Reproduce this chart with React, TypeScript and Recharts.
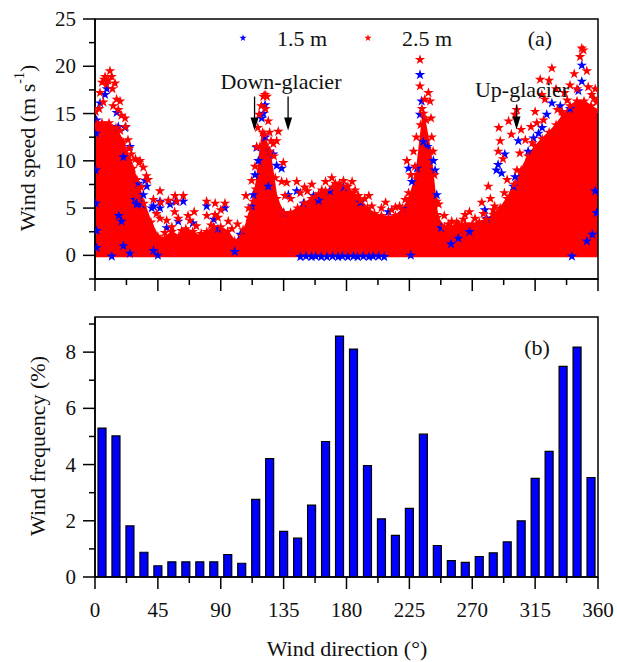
import React from "react";
import {
    ComposedChart,
    BarChart,
    Bar,
    Area,
    Scatter,
    XAxis,
    YAxis,
    ZAxis,
    ReferenceArea,
    ReferenceDot,
    Symbols,
} from "recharts";

const FONT = '"Liberation Serif", "Times New Roman", Times, serif';
const RED = "#ff0000";
const BLUE = "#0000ff";

// axis ticks (majors get labels, minors only a short tick)
const directionTicks = [0, 22.5, 45, 67.5, 90, 112.5, 135, 157.5, 180, 202.5, 225, 247.5, 270, 292.5, 315, 337.5, 360];
const speedTicks = [-2.5, 0, 2.5, 5, 7.5, 10, 12.5, 15, 17.5, 20, 22.5, 25];
const freqTicks = [0, 1, 2, 3, 4, 5, 6, 7, 8, 9];

// upper edge of the solid cloud of 2.5 m points, read every 5 degrees
const coreDir = [0, 5, 10, 15, 20, 25, 30, 35, 40, 45, 50, 55, 60, 65, 70, 75, 80, 85, 90, 95, 100, 105, 110, 115, 120, 125, 130, 135, 140, 145, 150, 155, 160, 165, 170, 175, 180, 185, 190, 195, 200, 205, 210, 215, 220, 225, 230, 235, 240, 245, 250, 255, 260, 265, 270, 275, 280, 285, 290, 295, 300, 305, 310, 315, 320, 325, 330, 335, 340, 345, 350, 355, 360];
const coreTop = [13.5, 14, 14, 13.5, 12, 10, 8, 5.5, 3.5, 2, 1.8, 2.5, 2, 2.8, 2.5, 2, 2.5, 3, 3, 2.5, 1.5, 2, 4, 7, 13, 11, 6, 4.5, 4.5, 5, 5.5, 6, 6.5, 6.8, 7.2, 7.4, 7.2, 6.6, 5.8, 5, 4.4, 4.2, 4, 4.2, 4.8, 6, 8.5, 15, 11, 4, 3, 3, 3.3, 3.3, 3.3, 3.5, 3.8, 4.3, 5, 6, 7.5, 9, 10.5, 11.5, 12.3, 13, 13.8, 14.8, 15.8, 16.3, 16.3, 15.8, 15.3];

// scattered points outside / on the edge of the cloud: [direction, speed]
const speed25m: [number, number][] = [
    [0.5, 15.2], [1.5, 13.9], [3.6, 17.2], [5, 18.3], [6.5, 18.6], [7.2, 18.9], [8.3, 18.1], [9.5, 18.5], [10.7, 19.5], [11.9, 18.9],
    [12.5, 17.6], [14.3, 18.2], [15.5, 16.5], [16.7, 15.4], [17.9, 16.3], [19, 14.8], [21.5, 14.5], [22, 13.6], [23.6, 12.2], [24.5, 11.3],
    [26, 10.7], [29, 10.2], [31.5, 9.8], [32.2, 10.0], [34.6, 9.3], [36.8, 8.4], [38, 8.0], [30, 6.2], [41.8, 5.9], [46.5, 6.8],
    [47, 5.6], [52.5, 5.8], [57.3, 6.3], [58.5, 5.7], [63.2, 6.3], [37, 3.7], [46.5, 3.9], [51.3, 3.7], [59.6, 3.9], [66.6, 4.2],
    [68, 3.7], [72.5, 3.1], [79.9, 5.7], [80, 4.2], [86, 5.5], [85.9, 4.3], [93, 5.5], [50, 2.4], [55, 3], [62, 2.6],
    [76, 2.3], [83, 3.2], [88, 4.0], [95.4, 3.6], [98, 2.8], [106, 2.7], [108, 6.3], [110, 5.0], [112.1, 7.9], [113.3, 5.7],
    [114.5, 9.4], [115.7, 11.5], [116.5, 13.5], [117.5, 14.9], [119, 15.8], [120.5, 16.8], [121.7, 17.0], [123, 16.8], [122, 15.5], [124, 14.2],
    [125, 13], [126, 12.1], [127.6, 11.8], [130, 12.1], [131.2, 13.1], [128, 10.5], [134.8, 9.8], [133.6, 7.8], [137.2, 7.7], [144.4, 7.8],
    [150, 7.2], [155.2, 7.5], [162.3, 6.9], [169.5, 8.2], [172, 7.6], [140, 6.0], [147, 6.6], [158, 6.2], [175, 7.6], [177.8, 7.9],
    [181, 7.3], [186.2, 6.9], [188.5, 6.3], [193, 6.0], [198.1, 5.2], [205, 5.0], [212.4, 4.8], [218, 5.2], [222, 5.9], [224.4, 6.6],
    [223.2, 10.0], [228, 11.0], [226, 8.5], [230, 12.5], [232.6, 20.7], [232.6, 17.9], [234, 15.5], [236, 16.5], [238.6, 17.2], [239.8, 16.3],
    [240.5, 14.5], [241, 12.5], [242, 11], [243, 8.5], [244.6, 5.7], [244.6, 4.3], [233, 13.8], [237, 14.3], [252.9, 3.3], [255.3, 3.6],
    [258.9, 3.5], [263.7, 3.8], [264.8, 4.3], [272, 3.9], [276.8, 5.6], [281.5, 7.3], [283, 6.0], [286, 5.2], [289, 13.5], [290, 12.1],
    [288.6, 11.0], [292, 10.2], [296, 14.2], [300.6, 14.9], [301.9, 15.4], [298, 12.8], [305, 13.3], [308, 12.2], [312, 13.6], [315, 15.2],
    [316.2, 14.0], [318.6, 18.6], [319.8, 17.0], [322, 16.5], [325, 18.5], [327, 19.8], [330, 17.6], [334, 15.2], [336, 17.2], [340, 18.0],
    [343, 19.2], [347.2, 21.0], [348.4, 21.9], [349.6, 21.7], [352, 19.5], [355.4, 17.0], [357, 16.6], [359, 16.2], [310, 9.5], [302, 9.0],
    [295, 8.0], [285, 4.8], [3, 15.5], [6, 16.2], [13, 15.8], [18, 13.2], [27, 9.2], [33, 7.2], [44, 4.4], [57, 4.6],
    [71, 4.6], [90, 4.8], [102, 3.3], [118, 11.5], [121, 12.8], [129, 8.2], [136, 6.3], [152, 6.8], [165, 7.8], [184, 7.8],
    [196, 6.3], [208, 5.6], [215, 5.1], [229, 9.4], [235, 11.2], [246, 5.4], [250, 4.2], [268, 4.6], [278, 4.4], [293, 6.6],
    [304, 10.8], [313, 11.9], [321, 14.3], [331, 15.4], [338, 16.4], [345, 17.6], [353, 17.8], [358, 17.6],
];

const speed15m: [number, number][] = [
    [0.5, 9], [0.5, 5.5], [0.7, 12.9], [1.2, 14.3], [3.6, 16.1], [7.2, 17.0], [8.5, 17.6], [15.5, 15.1], [16.7, 13.6], [21.5, 13.5],
    [20.3, 10.4], [25, 11.5], [31, 7.6], [37, 7.3], [36, 7.9], [28.6, 5.9], [33.4, 5.4], [34.6, 6.4], [29.8, 5.4], [40.6, 5.0],
    [41.8, 5.2], [46.5, 5.7], [46.5, 5.0], [53.7, 5.4], [57.7, 5.7], [63.2, 5.7], [59.6, 3.6], [70, 3.4], [79.9, 5.2], [85, 3.8],
    [88, 2.8], [93, 5.0], [1.2, 2.6], [19, 3.6], [17, 4.2], [51.3, 2.9], [20.3, 1.0], [41.8, 0.5], [1.2, 0.8], [12, -0.1],
    [25, 0.2], [45, 0], [100, 0.4], [104, 2.2], [112.1, 5.2], [113.3, 6.4], [114.5, 8.5], [115.7, 11.4], [116.9, 10.0], [119.3, 14.5],
    [120.5, 15.0], [121.7, 15.9], [122, 12.5], [124, 7.3], [125, 11.0], [127.6, 10.7], [130, 9.5], [133.6, 9.2], [135, 4.5], [138.4, 6.4],
    [144.4, 6.8], [149.2, 5.5], [156.4, 6.3], [160, 5.8], [168, 6.8], [178, 7.2], [190, 5.6], [210, 4.6], [220, 4.9], [147, -0.15],
    [151, -0.1], [155, -0.15], [158, -0.1], [162, -0.15], [166, -0.15], [170, -0.1], [174, -0.15], [177, -0.1], [181, -0.15], [185, -0.1],
    [188, -0.15], [192, -0.1], [196, -0.15], [199, -0.1], [203, -0.1], [207, -0.15], [226, 0], [224.4, 9.2], [226.8, 7.8],
    [230.4, 9.2], [232.6, 14.9], [232.6, 19.1], [233.8, 16.3], [235, 12], [238, 11.5], [242.2, 10.0], [243.4, 9.0], [244.6, 6.4], [247.7, 2.9],
    [254.8, 1.2], [260, 1.8], [268, 2.5], [279, 4.8], [280.3, 3.9], [287.3, 9.0], [288.5, 9.6], [291, 8.7], [293.3, 10.7], [299.4, 7.3],
    [300.6, 8.3], [303, 12.1], [310, 11], [313.8, 12.4], [317.4, 12.9], [320, 13.5], [323.3, 14.9], [327, 16.1], [333, 15.8], [340, 15.5],
    [341.3, -0.1], [346, 17.4], [348.4, 18.4], [348.4, 20.1], [352, 1.5], [356, 2.2], [358, 6.8], [359, 4.5],
];

// panel (b): frequency per 10 degree bin
const binCenters = [5, 15, 25, 35, 45, 55, 65, 75, 85, 95, 105, 115, 125, 135, 145, 155, 165, 175, 185, 195, 205, 215, 225, 235, 245, 255, 265, 275, 285, 295, 305, 315, 325, 335, 345, 355];
const windFreq = [5.3, 5.02, 1.82, 0.88, 0.4, 0.54, 0.54, 0.54, 0.54, 0.8, 0.49, 2.76, 4.21, 1.62, 1.38, 2.56, 4.82, 8.57, 8.11, 3.96, 2.07, 1.48, 2.44, 5.08, 1.12, 0.58, 0.52, 0.73, 0.86, 1.25, 2.0, 3.51, 4.47, 7.49, 8.18, 3.54];

const coreRows = coreDir.map((d, i) => ({ dir: d, top: coreTop[i] }));
const coreEdge = coreDir.map((d, i) => ({ dir: d, speed: coreTop[i] }));
const rows25 = speed25m.map(([d, s]) => ({ dir: d, speed: s }));
const rows15 = speed15m.map(([d, s]) => ({ dir: d, speed: s }));
const freqRows = binCenters.map((d, i) => ({ dir: d, freq: windFreq[i] }));

const DirTick = ({ x, y, payload, labelled }: any) => {
    const major = payload.value % 45 === 0;
    return (
        <g>
            <line x1={x} x2={x} y1={y} y2={y + (major ? 12 : 6)} stroke="#000" strokeWidth={1.5} />
            {labelled && major && (
                <text x={x} y={y + 33} textAnchor="middle" dominantBaseline="central" fontFamily={FONT} fontSize={21} fill="#111">
                    {payload.value}
                </text>
            )}
        </g>
    );
};

const ValueTick = ({ x, y, payload, step }: any) => {
    const major = payload.value % step === 0;
    return (
        <g>
            <line x1={x - (major ? 12 : 6)} x2={x} y1={y} y2={y} stroke="#000" strokeWidth={1.5} />
            {major && (
                <text x={x - 19} y={y} textAnchor="end" dominantBaseline="central" fontFamily={FONT} fontSize={21} fill="#111">
                    {payload.value}
                </text>
            )}
        </g>
    );
};

const Arrow = ({ cx, cy, len }: any) => (
    <g>
        <line x1={cx} x2={cx} y1={cy - len} y2={cy - 10} stroke="#000" strokeWidth={1.3} />
        <path d={`M${cx - 4},${cy - 13} L${cx + 4},${cy - 13} L${cx},${cy} Z`} fill="#000" />
    </g>
);

export default function App() {
    return (
        <div style={{ position: "absolute", left: 0, top: 0, width: 617, height: 662, background: "#fff" }}>
            {/* (a) wind speed vs direction */}
            <div style={{ position: "absolute", left: 0, top: 0 }}>
                <ComposedChart width={617} height={300} data={coreRows} margin={{ top: 19, right: 19, bottom: 0, left: 0 }}>
                    <XAxis
                        type="number"
                        dataKey="dir"
                        domain={[0, 360]}
                        ticks={directionTicks}
                        interval={0}
                        allowDataOverflow
                        height={21}
                        tickSize={0}
                        tickMargin={0}
                        tick={(p: any) => <DirTick {...p} />}
                        axisLine={{ stroke: "#000", strokeWidth: 1.5 }}
                    />
                    <YAxis
                        type="number"
                        dataKey="speed"
                        domain={[-2.5, 25]}
                        ticks={speedTicks}
                        interval={0}
                        allowDataOverflow
                        width={95}
                        tickSize={0}
                        tickMargin={0}
                        tick={(p: any) => <ValueTick {...p} step={5} />}
                        axisLine={{ stroke: "#000", strokeWidth: 1.5 }}
                    />
                    <ZAxis type="number" range={[34, 34]} />
                    <Area type="linear" dataKey="top" baseValue={-0.2} fill={RED} fillOpacity={1} stroke={RED} strokeWidth={2} isAnimationActive={false} />
                    <Scatter data={rows15} shape="star" fill={BLUE} isAnimationActive={false} />
                    <Scatter data={rows25} shape="star" fill={RED} isAnimationActive={false} />
                    <Scatter data={coreEdge} shape="star" fill={RED} isAnimationActive={false} />
                    <ReferenceDot x={114.2} y={13.2} r={0} shape={(p: any) => <Arrow {...p} len={34} />} />
                    <ReferenceDot x={138.2} y={13.2} r={0} shape={(p: any) => <Arrow {...p} len={34} />} />
                    <ReferenceDot x={301.7} y={13.3} r={0} shape={(p: any) => <Arrow {...p} len={25} />} />
                    <ReferenceArea x1={0} x2={360} y1={-2.5} y2={25} fill="none" stroke="#000" strokeWidth={1.5} />
                </ComposedChart>
            </div>

            {/* (b) wind frequency */}
            <div style={{ position: "absolute", left: 0, top: 300 }}>
                <BarChart width={617} height={362} data={freqRows} margin={{ top: 17, right: 19, bottom: 0, left: 0 }}>
                    <XAxis
                        type="number"
                        dataKey="dir"
                        domain={[0, 360]}
                        ticks={directionTicks}
                        interval={0}
                        allowDataOverflow
                        height={85}
                        tickSize={0}
                        tickMargin={0}
                        tick={(p: any) => <DirTick {...p} labelled />}
                        axisLine={{ stroke: "#000", strokeWidth: 1.5 }}
                    />
                    <YAxis
                        type="number"
                        domain={[0, 9.25]}
                        ticks={freqTicks}
                        interval={0}
                        allowDataOverflow
                        width={95}
                        tickSize={0}
                        tickMargin={0}
                        tick={(p: any) => <ValueTick {...p} step={2} />}
                        axisLine={{ stroke: "#000", strokeWidth: 1.5 }}
                    />
                    <Bar dataKey="freq" barSize={8} fill={BLUE} stroke="#000" strokeWidth={1.2} isAnimationActive={false} />
                    <ReferenceArea x1={0} x2={360} y1={0} y2={9.25} fill="none" stroke="#000" strokeWidth={1.5} />
                </BarChart>
            </div>

            {/* titles, legend, panel tags */}
            <svg width={617} height={662} style={{ position: "absolute", left: 0, top: 0, pointerEvents: "none" }} fontFamily={FONT} fill="#111">
                <text transform="translate(27,148) rotate(-90)" textAnchor="middle" dominantBaseline="central" fontSize={22}>
                    Wind speed (m s<tspan dy={-8} fontSize={14}>-1</tspan><tspan dy={8}>)</tspan>
                </text>
                <text transform="translate(37,446) rotate(-90)" textAnchor="middle" dominantBaseline="central" fontSize={22}>
                    Wind frequency (%)
                </text>
                <text x={347} y={648} textAnchor="middle" dominantBaseline="central" fontSize={22}>
                    Wind direction (°)
                </text>

                <Symbols cx={243} cy={38} type="star" size={16} fill={BLUE} />
                <text x={277} y={38} dominantBaseline="central" fontSize={22}>1.5 m</text>
                <Symbols cx={368} cy={38} type="star" size={16} fill={RED} />
                <text x={402} y={38} dominantBaseline="central" fontSize={22}>2.5 m</text>
                <text x={540} y={38} textAnchor="middle" dominantBaseline="central" fontSize={22}>(a)</text>
                <text x={537} y={347} textAnchor="middle" dominantBaseline="central" fontSize={22}>(b)</text>

                <text x={281} y={81} textAnchor="middle" dominantBaseline="central" fontSize={22}>Down-glacier</text>
                <text x={522} y={89} textAnchor="middle" dominantBaseline="central" fontSize={22}>Up-glacier</text>
            </svg>
        </div>
    );
}
